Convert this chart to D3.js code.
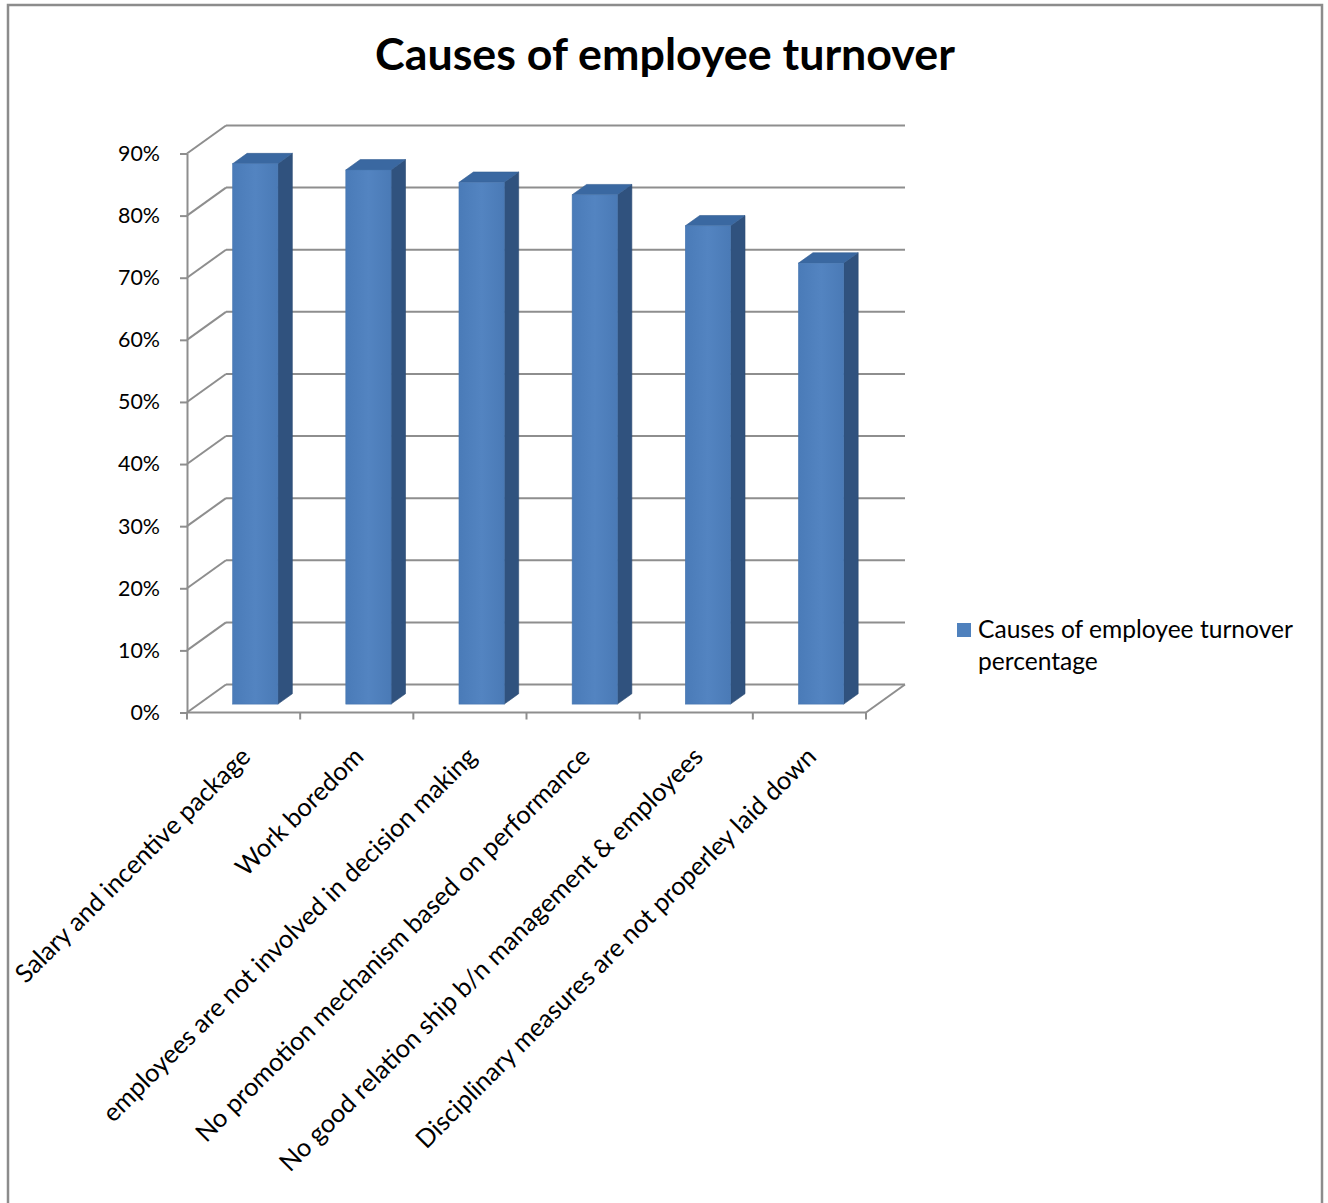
<!DOCTYPE html>
<html>
<head>
<meta charset="utf-8">
<script src="https://cdn.jsdelivr.net/npm/d3@7"></script>
<style>
  html, body { margin: 0; padding: 0; background: #ffffff; }
  svg { display: block; }
</style>
</head>
<body>
<svg id="chart" width="1328" height="1203"></svg>
<script>
// ---- data ----
const categories = [
  "Salary and incentive package",
  "Work boredom",
  "employees are not involved in decision making",
  "No promotion mechanism based on performance",
  "No good relation ship b/n management & employees",
  "Disciplinary measures are not properley laid down"
];
const values = [0.87, 0.86, 0.84, 0.82, 0.77, 0.71];
const yTicks = [0, 0.1, 0.2, 0.3, 0.4, 0.5, 0.6, 0.7, 0.8, 0.9];
const yTickLabels = ["0%", "10%", "20%", "30%", "40%", "50%", "60%", "70%", "80%", "90%"];
const titleText = "Causes of employee turnover";
const legendLines = ["Causes of employee turnover", "percentage"];

// ---- layout ----
const FONT = "Lato, 'Open Sans', sans-serif";
const svg = d3.select("#chart");
const x = d3.scaleBand().domain(categories).range([187, 866]).padding(0);
const y = d3.scaleLinear().domain([0, 0.9]).range([712.5, 153.5]);
const DX = 39, DY = -28;           // depth projection (full depth)
const d0 = 0.30, d1 = 0.67;        // bar depth span
const barFrac = 0.4;
const gridColor = "#8e8e8e";

function fit(sel, target) {
  const w = sel.node().getComputedTextLength();
  const fs = parseFloat(sel.attr("font-size"));
  return fs * target / w;
}

// border
svg.append("rect").attr("x", 8).attr("y", 5).attr("width", 1314).attr("height", 1230)
  .attr("fill", "#fff").attr("stroke", "#8c8c8c").attr("stroke-width", 2.5);

// title
const title = svg.append("text").text(titleText)
  .attr("font-family", FONT).attr("font-weight", 700).attr("font-size", 40)
  .attr("text-anchor", "middle").attr("x", 665).attr("y", 70).attr("fill", "#000");
title.attr("font-size", fit(title, 580));

// walls / gridlines
const grid = svg.append("g").attr("stroke", gridColor).attr("stroke-width", 2).attr("fill", "none");
yTicks.forEach(t => {
  const yf = y(t), yb = y(t) + DY;
  grid.append("line").attr("x1", x.range()[0] + DX).attr("x2", x.range()[1] + DX)
    .attr("y1", yb).attr("y2", yb);
  grid.append("line").attr("x1", x.range()[0]).attr("y1", yf)
    .attr("x2", x.range()[0] + DX).attr("y2", yb);
});
grid.append("line").attr("x1", x.range()[1]).attr("y1", y(0))
  .attr("x2", x.range()[1] + DX).attr("y2", y(0) + DY);
grid.append("line").attr("x1", x.range()[0]).attr("x2", x.range()[1]).attr("y1", y(0)).attr("y2", y(0));
const xTickPos = categories.map(c => x(c)).concat([x.range()[1]]);
xTickPos.forEach(p => {
  grid.append("line").attr("x1", p).attr("x2", p).attr("y1", y(0)).attr("y2", y(0) + 7);
});

// y axis
const yAxis = d3.axisLeft(y).tickValues(yTicks)
  .tickFormat((d, i) => yTickLabels[i]).tickSize(7).tickSizeOuter(0).tickPadding(20);
const yg = svg.append("g").attr("transform", `translate(${x.range()[0]},0)`).call(yAxis);
yg.selectAll("path, line").attr("stroke", gridColor).attr("stroke-width", 2);
yg.selectAll("text").attr("font-family", FONT).attr("font-size", 20).attr("fill", "#000");
{
  const t90 = yg.selectAll("text").filter((d, i) => i === yTicks.length - 1);
  const fs = fit(t90, 42);
  yg.selectAll("text").attr("font-size", fs);
}

// bars
const defs = svg.append("defs");
const grad = defs.append("linearGradient").attr("id", "frontGrad")
  .attr("x1", "0%").attr("x2", "100%").attr("y1", "0%").attr("y2", "0%");
grad.append("stop").attr("offset", "0%").attr("stop-color", "#4a7bb8");
grad.append("stop").attr("offset", "50%").attr("stop-color", "#5384c1");
grad.append("stop").attr("offset", "100%").attr("stop-color", "#4a7ab6");

const bw = x.bandwidth() * barFrac;
const bars = svg.append("g");
categories.forEach((c, i) => {
  const v = values[i];
  const xl = x(c) + (x.bandwidth() - bw) / 2 + DX * d0;
  const xr = xl + bw;
  const yt = y(v) + DY * d0;
  const yb = y(0) + DY * d0;
  const ddx = DX * (d1 - d0), ddy = DY * (d1 - d0);
  const g = bars.append("g");
  g.append("polygon").attr("points",
    [[xr, yt], [xr + ddx, yt + ddy], [xr + ddx, yb + ddy], [xr, yb]].map(p => p.join(",")).join(" "))
    .attr("fill", "#30527e").attr("stroke", "#2c4b73").attr("stroke-width", 0.6);
  g.append("polygon").attr("points",
    [[xl, yt], [xl + ddx, yt + ddy], [xr + ddx, yt + ddy], [xr, yt]].map(p => p.join(",")).join(" "))
    .attr("fill", "#3a68a1").attr("stroke", "#345e92").attr("stroke-width", 0.6);
  g.append("rect").attr("x", xl).attr("y", yt).attr("width", bw).attr("height", yb - yt)
    .attr("fill", "url(#frontGrad)").attr("stroke", "#4676b0").attr("stroke-width", 0.6);
});

// x labels
const xlab = svg.append("g");
const labels = xlab.selectAll("text").data(categories).join("text")
  .text(d => d)
  .attr("font-family", FONT).attr("font-size", 20).attr("fill", "#000")
  .attr("text-anchor", "end").attr("dy", "0.35em")
  .attr("transform", d => `translate(${x(d) + x.bandwidth() / 2 + 2},${752}) rotate(-45)`);
{
  const fsA = fit(labels.filter((d, i) => i === 0), 322);
  const fsB = fit(labels.filter((d, i) => i === 5), 551);
  labels.attr("font-size", (fsA + fsB) / 2);
}

// legend
const lg = svg.append("g");
lg.append("rect").attr("x", 957).attr("y", 623).attr("width", 14).attr("height", 14).attr("fill", "#4f81bd");
const l1 = lg.append("text").text(legendLines[0]).attr("x", 978).attr("y", 638)
  .attr("font-family", FONT).attr("font-size", 20).attr("fill", "#000");
const lfs = fit(l1, 315);
l1.attr("font-size", lfs);
lg.append("text").text(legendLines[1]).attr("x", 978).attr("y", 670)
  .attr("font-family", FONT).attr("font-size", lfs).attr("fill", "#000");
</script>
</body>
</html>
